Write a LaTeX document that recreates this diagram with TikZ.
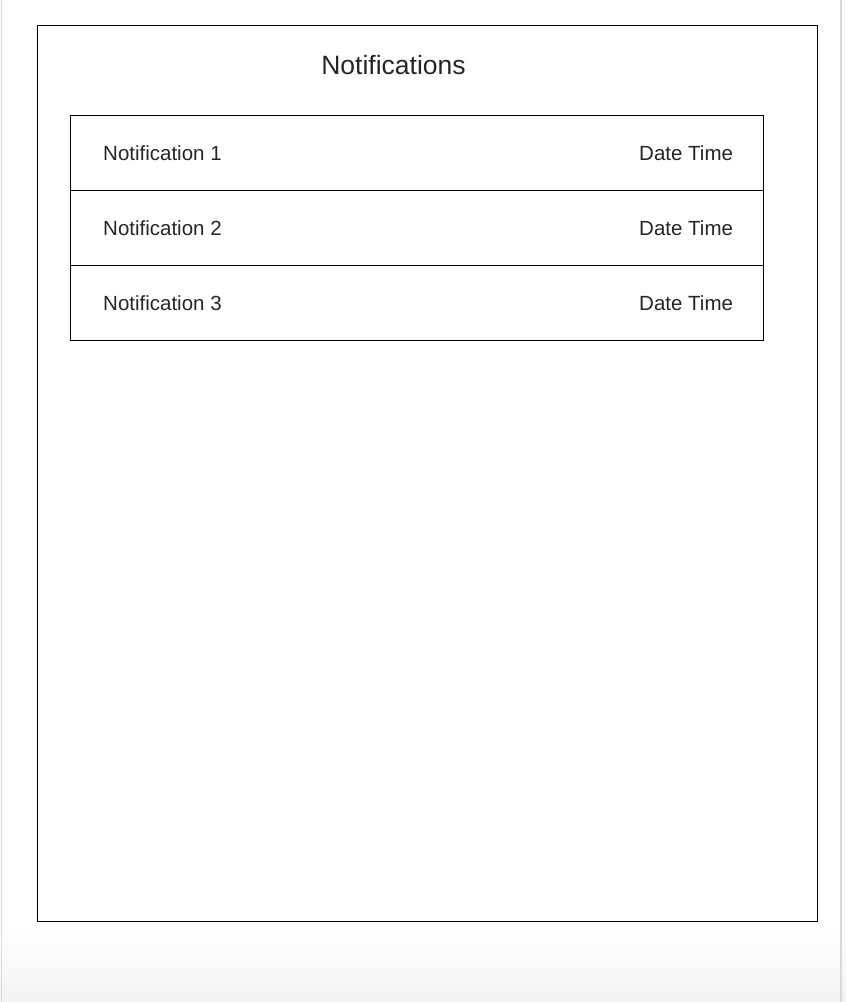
\documentclass[tikz,border=0pt]{standalone}
\usepackage{fontspec}
\setmainfont{Liberation Sans}
\usepackage{tikz}

\begin{document}
\begin{tikzpicture}
        [x=1pt,y=-1pt,every node/.style={inner sep=0pt,text=black!85}]
        % page and frame
        \useasboundingbox (0,0) rectangle (846,1002);
        \shade[top color=white,bottom color=black!5] (0,930) rectangle (846,1002);
        \draw[black!15,line width=1.5pt] (1.5,0) -- (1.5,1002);
        \draw[black!15,line width=1.5pt] (841,0) -- (841,1002);
        \node[draw=black,line width=1.2pt,fill=white,minimum width=780pt,minimum height=896pt,anchor=north west] (Screen) at (37,25) {};
        \node[font=\fontsize{26.5}{30}\selectfont] (Title) at (393.5,65) {Notifications};
        \tikzset{RowStyle/.style = {draw=black,
                                  line width     = 1.2pt,
                                  shape          = rectangle,
                                  minimum width  = 693pt,
                                  minimum height = 75pt,
                                  anchor         = north west},
                 TextStyle/.style = {font=\fontsize{20.5}{24}\selectfont}}
        \foreach \i/\y in {1/115,2/190,3/265}
        {
            \node[RowStyle] (Row\i) at (70,\y) {};
            \node[TextStyle,anchor=west] (Item\i) at ([xshift=33pt]Row\i.west) {Notification \i};
            \node[TextStyle,anchor=east] (Date\i) at ([xshift=-31pt]Row\i.east) {Date Time};
        }
    \end{tikzpicture}
\end{document}
